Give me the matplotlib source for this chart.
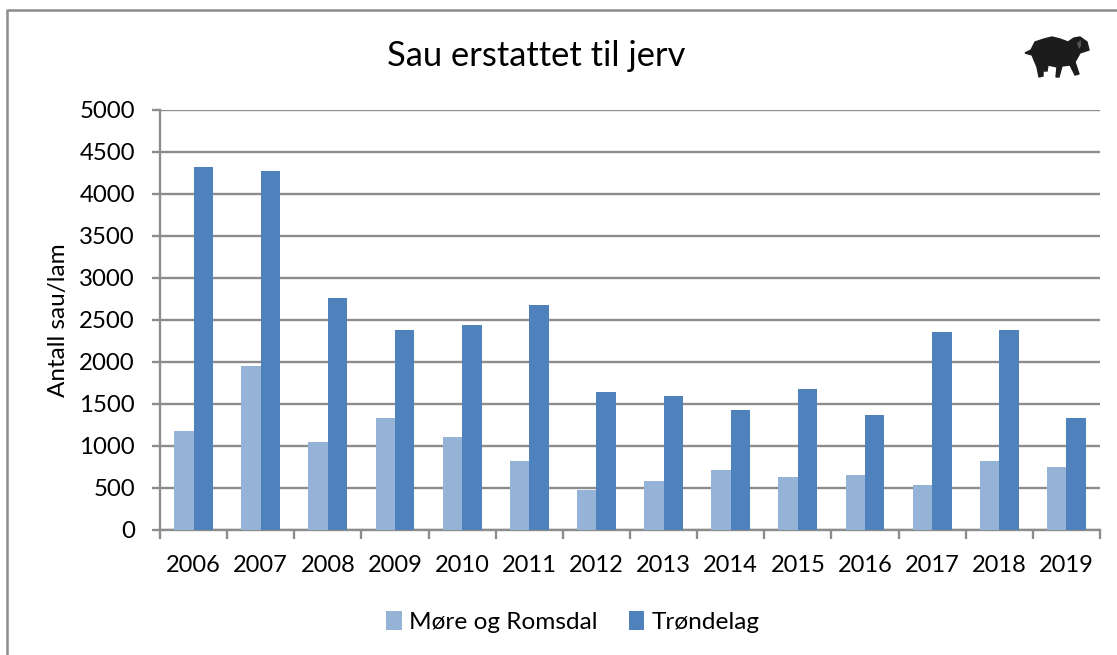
import matplotlib
matplotlib.use("Agg")
import matplotlib.pyplot as plt
import numpy as np
from matplotlib.lines import Line2D
from matplotlib.patches import Polygon

years = [2006, 2007, 2008, 2009, 2010, 2011, 2012, 2013, 2014, 2015, 2016, 2017, 2018, 2019]
more_romsdal = [1175, 1950, 1045, 1335, 1110, 820, 480, 580, 710, 630, 650, 530, 820, 750]
trondelag = [4325, 4270, 2760, 2385, 2440, 2680, 1640, 1600, 1430, 1675, 1365, 2355, 2380, 1330]
y_ticks = [0, 500, 1000, 1500, 2000, 2500, 3000, 3500, 4000, 4500, 5000]

W, H = 1117, 655
GREY = "#8c8c8c"
plt.rcParams["font.family"] = ["Lato", "DejaVu Sans"]

fig = plt.figure(figsize=(W / 100, H / 100), dpi=100)
ax = fig.add_axes([160 / W, 1 - 530 / H, (1100 - 160) / W, (530 - 110) / H])

x = np.arange(len(years))
width = 0.29
ax.bar(x - width / 2, more_romsdal, width, color="#95b3d7", label="Møre og Romsdal", zorder=3)
ax.bar(x + width / 2, trondelag, width, color="#4f81bd", label="Trøndelag", zorder=3)

ax.set_xlim(-0.5, len(years) - 0.5)
ax.set_ylim(0, 5000)
ax.set_yticks(y_ticks)
ax.set_xticks(np.arange(len(years) + 1) - 0.5, minor=False)
ax.set_xticklabels([])
for i, year in enumerate(years):
    ax.annotate(str(year), (i, 0), xytext=(0, -36), xycoords="data",
                textcoords="offset pixels", ha="center", va="center", fontsize=17)
ax.tick_params(axis="x", length=6.5, width=1.7, color=GREY)
ax.tick_params(axis="y", length=6, width=1.7, color=GREY, labelsize=17.3, pad=12)
ax.grid(axis="y", color=GREY, linewidth=1.7, zorder=0)
for side in ["top", "right"]:
    ax.spines[side].set_visible(False)
for side in ["left", "bottom"]:
    ax.spines[side].set_color(GREY)
    ax.spines[side].set_linewidth(1.7)

ax.set_ylabel("Antall sau/lam", fontsize=17.5)
ax.yaxis.set_label_coords(69 / W, 1 - 320 / H, transform=fig.transFigure)
fig.text(536 / W, 1 - 56 / H, "Sau erstattet til jerv", ha="center", va="center", fontsize=24.8)

handles, labels = ax.get_legend_handles_labels()
fig.legend(handles, labels, loc="center", bbox_to_anchor=(573 / W, 1 - 622 / H),
           ncol=2, frameon=False, fontsize=17.6, handlelength=0.62, handleheight=0.85,
           handletextpad=0.3, columnspacing=1.3)

# chart frame, runs off the crop on the right and bottom
fig.add_artist(Line2D([7 / W, 7 / W, 1], [0, 1 - 10 / H, 1 - 10 / H], color=GREY, linewidth=1.8))


def px(points):
    return [(a / W, 1 - b / H) for a, b in points]


# sheep icon
sheep = [(1025, 53), (1031, 50), (1035, 42), (1044, 39), (1052, 37), (1060, 39), (1068, 42),
         (1074, 38), (1080, 37), (1087, 42), (1089, 50), (1080, 53), (1075, 62), (1079, 74),
         (1075, 75), (1070, 65), (1062, 66), (1059, 77), (1056, 77), (1057, 67), (1048, 65),
         (1047, 71), (1043, 71), (1043, 76), (1039, 77), (1037, 67), (1032, 55)]
ear = [(1077, 43), (1081, 40), (1081, 46), (1079, 49)]
fig.add_artist(Polygon(px(sheep), closed=True, transform=fig.transFigure,
                       facecolor="#1c1c1c", edgecolor="#1c1c1c", linewidth=1))
fig.add_artist(Polygon(px(ear), closed=True, transform=fig.transFigure,
                       facecolor="#555555", edgecolor="none"))

fig.savefig("out.png", dpi=100)
